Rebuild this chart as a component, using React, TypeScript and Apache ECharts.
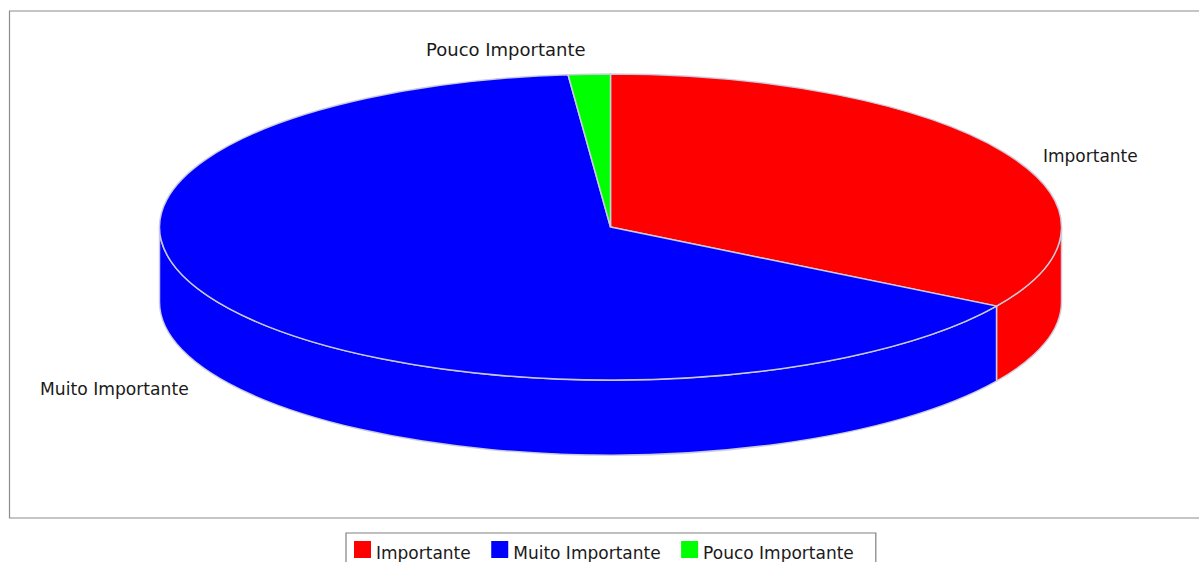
import React, { useEffect, useRef } from "react";
import * as echarts from "echarts";

const categories = ["Importante", "Muito Importante", "Pouco Importante"];
const shares = [33.65, 64.85, 1.5];
const colors = ["#ff0000", "#0000ff", "#00ff00"];

const CX = 610.5;
const CY = 227;
const RX = 451;
const RY = 153;
const DEPTH = 75;
const EDGE = "rgba(206,206,222,0.95)";
const FONT = "DejaVu Sans";
const labelPositions = [
  { x: 1043, y: 156, scaleX: 1 },
  { x: 40, y: 389, scaleX: 1.01 },
  { x: 426, y: 50, scaleX: 1.06 },
];

const total = shares.reduce((a, b) => a + b, 0);
const px = (deg: number) => CX + RX * Math.sin((deg * Math.PI) / 180);
const py = (deg: number, dy = 0) => CY - RY * Math.cos((deg * Math.PI) / 180) + dy;

function topPath(a: number, b: number) {
  const large = b - a > 180 ? 1 : 0;
  return `M${CX} ${CY}L${px(a)} ${py(a)}A${RX} ${RY} 0 ${large} 1 ${px(b)} ${py(b)}Z`;
}
function sidePath(a: number, b: number) {
  return (
    `M${px(a)} ${py(a)}A${RX} ${RY} 0 0 1 ${px(b)} ${py(b)}` +
    `L${px(b)} ${py(b, DEPTH)}A${RX} ${RY} 0 0 0 ${px(a)} ${py(a, DEPTH)}Z`
  );
}

function makeSeries(index: number) {
  const before = shares.slice(0, index).reduce((a, b) => a + b, 0);
  return {
    type: "custom",
    name: categories[index],
    coordinateSystem: "none",
    silent: true,
    z: 2,
    itemStyle: { color: colors[index] },
    data: [[shares[index]]],
    renderItem: (_p: any, api: any) => {
      const start = (before / total) * 360;
      const end = start + (api.value(0) / total) * 360;
      const style = { fill: colors[index], stroke: EDGE, lineWidth: 1.5 };
      const children: any[] = [];
      const a = Math.max(start, 90);
      const b = Math.min(end, 270);
      if (b > a) {
        children.push({ type: "path", z2: 1, shape: { pathData: sidePath(a, b) }, style });
      }
      children.push({ type: "path", z2: 2, shape: { pathData: topPath(start, end) }, style });
      return { type: "group", children };
    },
  };
}

export default function App() {
  const ref = useRef<HTMLDivElement>(null);
  useEffect(() => {
    document.body.style.margin = "0";
    document.body.style.overflow = "hidden";
    const chart = echarts.init(ref.current!, undefined, { renderer: "svg" });
    chart.setOption({
      animation: false,
      backgroundColor: "#ffffff",
      legend: {
        data: categories,
        left: 346,
        top: 533,
        orient: "horizontal",
        icon: "rect",
        itemWidth: 17,
        itemHeight: 17,
        itemGap: 20.5,
        padding: [8, 22, 9, 8],
        borderColor: "#808080",
        borderWidth: 1.2,
        selectedMode: false,
        formatter: "{t|{name}}",
        textStyle: {
          fontFamily: FONT,
          fontSize: 17,
          color: "#1a1a1a",
          rich: {
            t: { fontFamily: FONT, fontSize: 17, color: "#1a1a1a", padding: [6, 0, 0, 0] },
          },
        },
      },
      graphic: [
        {
          type: "rect",
          silent: true,
          z: 0,
          shape: { x: 9.5, y: 11, width: 1230, height: 507 },
          style: { fill: "#ffffff", stroke: "#8c8c8c", lineWidth: 1.2 },
        },
        ...categories.map((name, i) => ({
          type: "text",
          silent: true,
          z: 10,
          x: labelPositions[i].x,
          y: labelPositions[i].y,
          scaleX: labelPositions[i].scaleX,
          style: {
            text: name,
            fontFamily: FONT,
            fontSize: 17,
            fill: "#1a1a1a",
            textVerticalAlign: "middle",
          },
        })),
      ],
      series: categories.map((_, i) => makeSeries(i)),
    });
    return () => chart.dispose();
  }, []);
  return <div ref={ref} style={{ width: 1199, height: 562 }} />;
}
